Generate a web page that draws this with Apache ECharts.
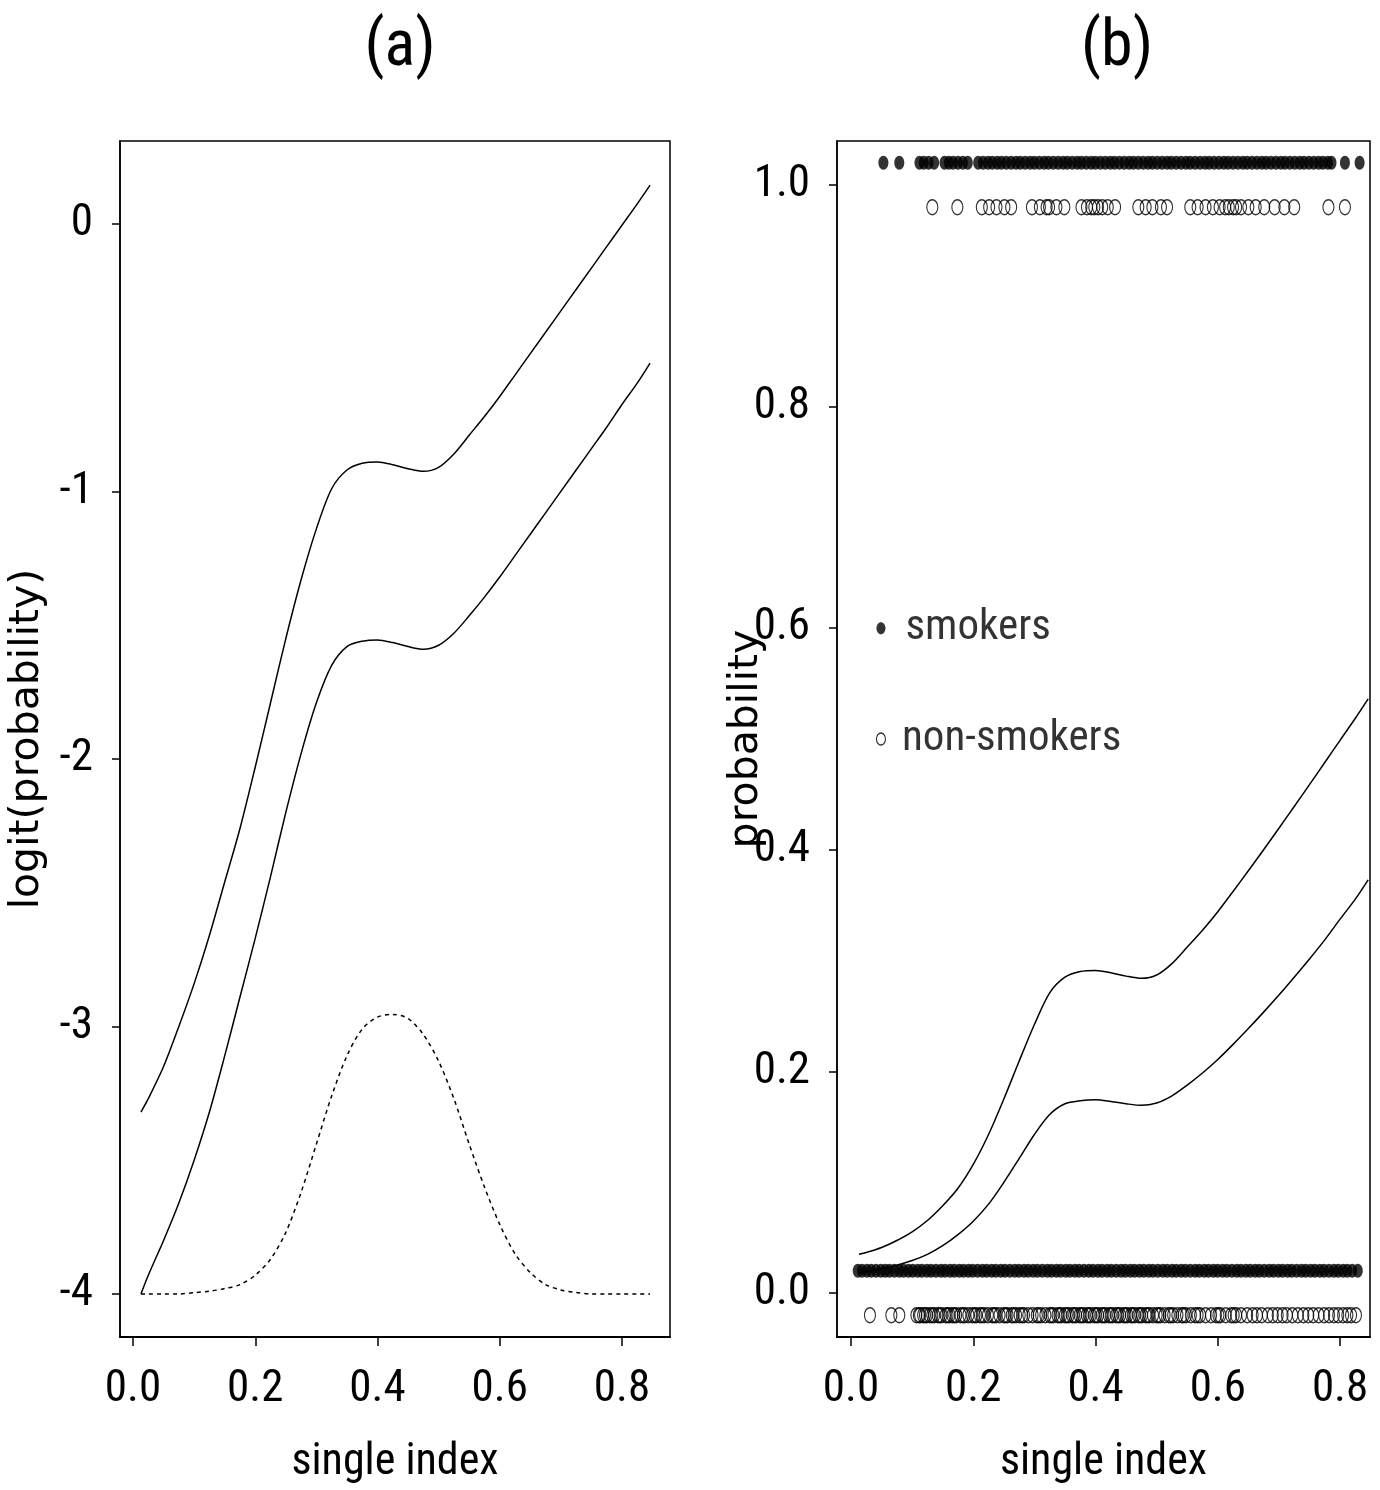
<!DOCTYPE html>
<html>
<head>
<meta charset="utf-8">
<script src="https://cdn.jsdelivr.net/npm/echarts@6/dist/echarts.min.js"></script>
<style>
html, body { margin: 0; padding: 0; background: #fff; }
#main { width: 1380px; height: 1490px; }
</style>
</head>
<body>
<div id="main"></div>
<script>
var narrow = "'Liberation Sans Narrow', 'Arial Narrow', 'Roboto Condensed', sans-serif";
var wide = "'DejaVu Sans', sans-serif";

// single index grid for the fitted curves
var curveX = [0.013, 0.025, 0.05, 0.075, 0.1, 0.125, 0.15, 0.175, 0.2, 0.225, 0.25, 0.275, 0.3, 0.325, 0.35, 0.375, 0.4,
    0.425, 0.45, 0.475, 0.5, 0.525, 0.55, 0.575, 0.6, 0.625, 0.65, 0.675, 0.7, 0.725, 0.75, 0.775, 0.8, 0.825, 0.846];
// (a) logit scale
var upperLogit = [-3.32, -3.27, -3.15, -3.00, -2.84, -2.66, -2.46, -2.26, -2.03, -1.79, -1.55, -1.33, -1.14, -0.99, -0.92, -0.895, -0.89,
    -0.90, -0.915, -0.925, -0.91, -0.86, -0.79, -0.72, -0.645, -0.565, -0.485, -0.405, -0.325, -0.245, -0.165, -0.085, -0.005, 0.075, 0.145];
var lowerLogit = [-4.0, -3.93, -3.80, -3.66, -3.50, -3.32, -3.11, -2.89, -2.67, -2.44, -2.20, -1.98, -1.79, -1.65, -1.58, -1.56, -1.555,
    -1.565, -1.58, -1.59, -1.575, -1.53, -1.465, -1.395, -1.32, -1.24, -1.16, -1.08, -1.0, -0.92, -0.84, -0.76, -0.675, -0.595, -0.52];
var densityCurve = [-4.0, -4.0, -4.0, -4.0, -3.995, -3.99, -3.98, -3.965, -3.93, -3.87, -3.77, -3.62, -3.44, -3.26, -3.11, -3.01, -2.965,
    -2.955, -2.97, -3.03, -3.13, -3.27, -3.44, -3.60, -3.74, -3.85, -3.92, -3.965, -3.985, -3.995, -4.0, -4.0, -4.0, -4.0, -4.0];
// (b) probability scale
var upperProb = [0.0349, 0.0366, 0.0411, 0.0474, 0.0552, 0.0654, 0.0787, 0.0945, 0.1161, 0.1431, 0.1751, 0.2092, 0.2423, 0.2709, 0.2850, 0.2901, 0.2911,
    0.2891, 0.2860, 0.2840, 0.2870, 0.2973, 0.3122, 0.3274, 0.3441, 0.3624, 0.3811, 0.4001, 0.4195, 0.4391, 0.4588, 0.4788, 0.4988, 0.5187, 0.5362];
var lowerProb = [0.0180, 0.0193, 0.0219, 0.0251, 0.0293, 0.0349, 0.0427, 0.0527, 0.0648, 0.0802, 0.0998, 0.1213, 0.1431, 0.1611, 0.1708, 0.1736, 0.1744,
    0.1729, 0.1708, 0.1694, 0.1715, 0.1780, 0.1877, 0.1986, 0.2108, 0.2244, 0.2387, 0.2535, 0.2689, 0.2850, 0.3015, 0.3187, 0.3374, 0.3555, 0.3729];

// observed single index values, plotted with a small offset from 0 / 1
var smokersOneX = [0.053, 0.079, 0.112, 0.119, 0.127, 0.136, 0.153, 0.160, 0.167, 0.175, 0.183, 0.191, 0.208, 0.216, 0.224, 0.231, 0.239,
    0.246, 0.254, 0.262, 0.270, 0.277, 0.285, 0.293, 0.300, 0.308, 0.316, 0.323, 0.331, 0.339, 0.347, 0.354, 0.362, 0.370, 0.377, 0.385,
    0.393, 0.400, 0.408, 0.416, 0.424, 0.431, 0.439, 0.447, 0.455, 0.462, 0.470, 0.478, 0.486, 0.493, 0.501, 0.509, 0.517, 0.524, 0.532,
    0.540, 0.548, 0.555, 0.563, 0.571, 0.579, 0.586, 0.594, 0.602, 0.610, 0.617, 0.625, 0.633, 0.641, 0.648, 0.656, 0.664, 0.672, 0.679,
    0.687, 0.695, 0.703, 0.710, 0.718, 0.726, 0.734, 0.741, 0.749, 0.757, 0.765, 0.772, 0.780, 0.786, 0.808, 0.832];
var nonSmokersOneX = [0.133, 0.174, 0.214, 0.226, 0.238, 0.251, 0.262, 0.296, 0.309, 0.320, 0.324, 0.336, 0.349, 0.377, 0.386, 0.393,
    0.398, 0.404, 0.411, 0.420, 0.432, 0.470, 0.482, 0.493, 0.507, 0.517, 0.555, 0.567, 0.580, 0.592, 0.603, 0.612, 0.618, 0.625, 0.630,
    0.638, 0.650, 0.662, 0.676, 0.693, 0.709, 0.725, 0.781, 0.808];
var smokersZeroX = [0.011, 0.018, 0.026, 0.033, 0.041, 0.049, 0.056, 0.063, 0.071, 0.079, 0.086, 0.094, 0.101, 0.109, 0.116, 0.124,
    0.131, 0.139, 0.147, 0.154, 0.162, 0.169, 0.177, 0.184, 0.192, 0.199, 0.207, 0.215, 0.222, 0.230, 0.237, 0.245, 0.252, 0.260, 0.268,
    0.275, 0.283, 0.290, 0.298, 0.305, 0.313, 0.321, 0.328, 0.336, 0.343, 0.351, 0.358, 0.366, 0.373, 0.381, 0.389, 0.396, 0.404, 0.411,
    0.419, 0.426, 0.434, 0.442, 0.449, 0.457, 0.464, 0.472, 0.479, 0.487, 0.494, 0.502, 0.510, 0.517, 0.525, 0.532, 0.540, 0.547, 0.555,
    0.563, 0.570, 0.578, 0.585, 0.593, 0.600, 0.608, 0.615, 0.623, 0.631, 0.638, 0.646, 0.653, 0.661, 0.668, 0.676, 0.684, 0.691, 0.699,
    0.706, 0.714, 0.721, 0.729, 0.737, 0.744, 0.752, 0.759, 0.767, 0.774, 0.782, 0.790, 0.797, 0.805, 0.812, 0.820, 0.829];
var nonSmokersZeroX = [0.031, 0.066, 0.079, 0.107, 0.111, 0.113, 0.118, 0.121, 0.124, 0.129, 0.133, 0.136, 0.142, 0.145, 0.148, 0.155,
    0.158, 0.161, 0.166, 0.169, 0.172, 0.179, 0.183, 0.186, 0.192, 0.198, 0.202, 0.205, 0.211, 0.214, 0.218, 0.224, 0.231, 0.234, 0.237,
    0.243, 0.250, 0.253, 0.256, 0.263, 0.266, 0.270, 0.276, 0.280, 0.283, 0.290, 0.297, 0.304, 0.307, 0.311, 0.318, 0.325, 0.328, 0.331,
    0.338, 0.341, 0.344, 0.350, 0.353, 0.356, 0.362, 0.365, 0.368, 0.374, 0.377, 0.380, 0.386, 0.389, 0.392, 0.398, 0.401, 0.404, 0.410,
    0.413, 0.416, 0.422, 0.425, 0.428, 0.434, 0.437, 0.440, 0.446, 0.449, 0.452, 0.458, 0.461, 0.464, 0.470, 0.473, 0.476, 0.482, 0.485,
    0.488, 0.494, 0.500, 0.503, 0.506, 0.513, 0.520, 0.523, 0.527, 0.534, 0.541, 0.544, 0.548, 0.556, 0.563, 0.567, 0.571, 0.580, 0.589,
    0.597, 0.601, 0.604, 0.613, 0.622, 0.626, 0.630, 0.638, 0.648, 0.657, 0.664, 0.672, 0.682, 0.690, 0.698, 0.706, 0.713, 0.722, 0.731,
    0.740, 0.748, 0.756, 0.765, 0.774, 0.782, 0.790, 0.797, 0.805, 0.812, 0.818, 0.826];
var rowLevels = { smokersOne: 1.02, nonSmokersOne: 0.98, smokersZero: 0.02, nonSmokersZero: -0.02 };

var xTicks = [0, 0.2, 0.4, 0.6, 0.8];
var logitTicks = [-4, -3, -2, -1, 0];
var probTicks = [0, 0.2, 0.4, 0.6, 0.8, 1.0];
var legendItems = [
    { name: 'smokers', x: 0.049, y: 0.6, filled: true },
    { name: 'non-smokers', x: 0.049, y: 0.5, filled: false }
];

var ellipse = 'path://M0,-1C0.552,-1,1,-0.552,1,0C1,0.552,0.552,1,0,1C-0.552,1,-1,0.552,-1,0C-1,-0.552,-0.552,-1,0,-1Z';

function zip(xs, ys) {
    var out = [];
    for (var i = 0; i < xs.length; i++) out.push([xs[i], ys[i]]);
    return out;
}
function row(xs, level) {
    return xs.map(function (x) { return [x, level]; });
}

function xAxisFor(idx, min, max) {
    return {
        gridIndex: idx, type: 'value', min: min, max: max,
        name: 'single index', nameLocation: 'middle', nameGap: 104, nameMoveOverlap: false,
        nameTextStyle: { fontFamily: narrow, fontSize: 44, color: '#000' },
        axisLine: { show: true, onZero: false, lineStyle: { color: '#000', width: 2 } },
        axisTick: { show: true, length: 9, customValues: xTicks, lineStyle: { color: '#000', width: 1.5 } },
        axisLabel: {
            customValues: xTicks, margin: 30, fontFamily: narrow, fontSize: 45, color: '#000',
            formatter: function (v) { return v.toFixed(1); }
        },
        splitLine: { show: false }
    };
}
function yAxisFor(idx, min, max, ticks, name, gap, fmt) {
    return {
        gridIndex: idx, type: 'value', min: min, max: max,
        name: name, nameLocation: 'middle', nameGap: gap, nameRotate: 90, nameMoveOverlap: false,
        nameTextStyle: { fontFamily: wide, fontSize: 41, color: '#000' },
        axisLine: { show: true, onZero: false, lineStyle: { color: '#000', width: 1.5 } },
        axisTick: { show: true, length: 8, customValues: ticks, lineStyle: { color: '#000', width: 1.5 } },
        axisLabel: { customValues: ticks, margin: 27, fontFamily: narrow, fontSize: 45, color: '#000', formatter: fmt },
        splitLine: { show: false }
    };
}

var solid = { color: '#000', width: 1.5 };
var series = [
    { type: 'line', xAxisIndex: 0, yAxisIndex: 0, data: zip(curveX, upperLogit), smooth: 0.3, showSymbol: false, lineStyle: solid },
    { type: 'line', xAxisIndex: 0, yAxisIndex: 0, data: zip(curveX, lowerLogit), smooth: 0.3, showSymbol: false, lineStyle: solid },
    { type: 'line', xAxisIndex: 0, yAxisIndex: 0, data: zip(curveX, densityCurve), smooth: 0.3, showSymbol: false,
      lineStyle: { color: '#000', width: 1.5, type: [4, 4] } },
    { type: 'line', xAxisIndex: 1, yAxisIndex: 1, data: zip(curveX, upperProb), smooth: 0.3, showSymbol: false, lineStyle: solid },
    { type: 'line', xAxisIndex: 1, yAxisIndex: 1, data: zip(curveX, lowerProb), smooth: 0.3, showSymbol: false, lineStyle: solid },
    { type: 'scatter', xAxisIndex: 1, yAxisIndex: 1, data: row(smokersOneX, rowLevels.smokersOne),
      symbol: ellipse, symbolSize: [10, 14], itemStyle: { color: '#000' } },
    { type: 'scatter', xAxisIndex: 1, yAxisIndex: 1, data: row(smokersZeroX, rowLevels.smokersZero),
      symbol: ellipse, symbolSize: [10, 14], itemStyle: { color: '#000' } },
    { type: 'scatter', xAxisIndex: 1, yAxisIndex: 1, data: row(nonSmokersOneX, rowLevels.nonSmokersOne),
      symbol: ellipse, symbolSize: [11, 15], itemStyle: { color: 'rgba(0,0,0,0)', borderColor: '#000', borderWidth: 1.3 } },
    { type: 'scatter', xAxisIndex: 1, yAxisIndex: 1, data: row(nonSmokersZeroX, rowLevels.nonSmokersZero),
      symbol: ellipse, symbolSize: [11, 15], itemStyle: { color: 'rgba(0,0,0,0)', borderColor: '#000', borderWidth: 1.3 } }
];
legendItems.forEach(function (it) {
    series.push({
        type: 'scatter', xAxisIndex: 1, yAxisIndex: 1, data: [[it.x, it.y]],
        symbol: ellipse, symbolSize: [9, 12],
        itemStyle: it.filled ? { color: '#000' } : { color: 'rgba(0,0,0,0)', borderColor: '#000', borderWidth: 1.3 },
        label: {
            show: true, position: 'right', distance: it.filled ? 20 : 16, formatter: it.name,
            fontFamily: narrow, fontSize: 43, color: '#000'
        }
    });
});

var myChart = echarts.init(document.getElementById('main'));
var option = {
    backgroundColor: '#fff',
    animation: false,
    title: [
        { text: '(a)', left: 395, top: 12, textAlign: 'center', textStyle: { fontFamily: narrow, fontSize: 64, fontWeight: 'normal', color: '#000' } },
        { text: '(b)', left: 1112, top: 12, textAlign: 'center', textStyle: { fontFamily: narrow, fontSize: 64, fontWeight: 'normal', color: '#000' } }
    ],
    grid: [
        { left: 120, top: 141, width: 550, height: 1196, show: true, borderColor: '#000', borderWidth: 1.5 },
        { left: 837, top: 141, width: 533, height: 1196, show: true, borderColor: '#000', borderWidth: 1.5 }
    ],
    xAxis: [xAxisFor(0, -0.0213, 0.8786), xAxisFor(1, -0.0229, 0.849)],
    yAxis: [
        yAxisFor(0, -4.161, 0.31, logitTicks, 'logit(probability)', 72, function (v) { return String(Math.round(v)); }),
        yAxisFor(1, -0.0397, 1.0397, probTicks, 'probability', 70, function (v) { return v.toFixed(1); })
    ],
    series: series
};
myChart.setOption(option);
</script>
</body>
</html>
